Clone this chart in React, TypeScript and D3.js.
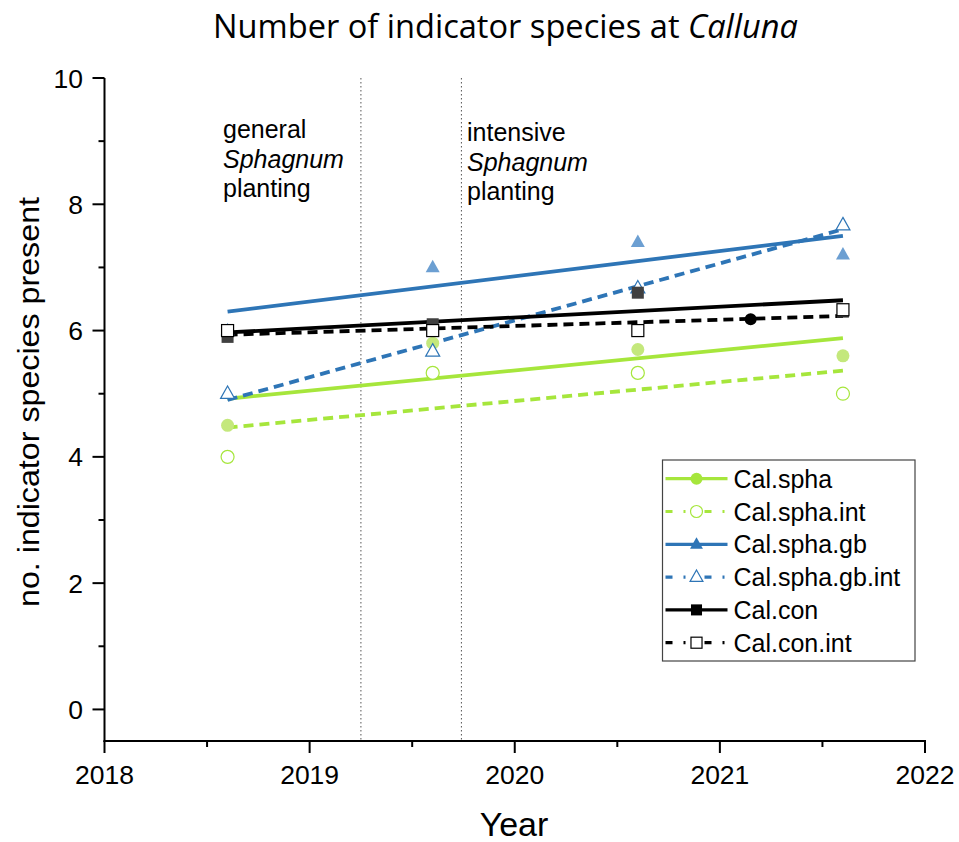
import React from "react";
import * as d3 from "d3";

const years = [2018.6, 2019.6, 2020.6, 2021.6];
const calSpha = [4.5, 5.8, 5.7, 5.6];
const calSphaInt = [4.0, 5.33, 5.33, 5.0];
const calSphaGb = [6.0, 7.0, 7.4, 7.2];
const calSphaGbInt = [5.0, 5.67, 6.67, 7.67];
const calCon = [5.9, 6.1, 6.6, 6.3];
const calConInt = [6.0, 6.0, 6.0, 6.33];
const extraPointX = [2021.15];
const extraPointY = [6.18];
const xTicks = [2018, 2019, 2020, 2021, 2022];
const yTicks = [0, 2, 4, 6, 8, 10];
const plantingLines = [2019.25, 2019.74];

const GREEN = "#a6e63c";
const GREEN_FILL = "#c4e87c";
const BLUE = "#2e75b6";
const BLUE_FILL = "#6c9fd2";
const BLACK = "#000";
const DARK = "#404040";

type Series = {
  name: string;
  values: number[];
  color: string;
  fill: string;
  dashed: boolean;
  shape: "circle" | "triangle" | "square";
};

const series: Series[] = [
  { name: "Cal.spha", values: calSpha, color: GREEN, fill: GREEN_FILL, dashed: false, shape: "circle" },
  { name: "Cal.spha.int", values: calSphaInt, color: GREEN, fill: "#fff", dashed: true, shape: "circle" },
  { name: "Cal.spha.gb", values: calSphaGb, color: BLUE, fill: BLUE_FILL, dashed: false, shape: "triangle" },
  { name: "Cal.spha.gb.int", values: calSphaGbInt, color: BLUE, fill: "#fff", dashed: true, shape: "triangle" },
  { name: "Cal.con", values: calCon, color: BLACK, fill: DARK, dashed: false, shape: "square" },
  { name: "Cal.con.int", values: calConInt, color: BLACK, fill: "#fff", dashed: true, shape: "square" },
];

function regress(xs: number[], ys: number[]) {
  const mx = d3.mean(xs)!;
  const my = d3.mean(ys)!;
  let num = 0, den = 0;
  xs.forEach((x, i) => {
    num += (x - mx) * (ys[i] - my);
    den += (x - mx) * (x - mx);
  });
  const b = num / den;
  return (x: number) => my + b * (x - mx);
}

const x = d3.scaleLinear().domain([2018, 2022]).range([104.5, 925]);
const y = d3.scaleLinear().domain([-0.5, 10]).range([741, 78]);

function Marker({ s, cx, cy, size = 1, legend = false }: { s: Series; cx: number; cy: number; size?: number; legend?: boolean }) {
  const filled = !s.dashed;
  const stroke = filled ? "none" : s.color;
  const fill = legend && filled ? s.color : s.fill;
  if (s.shape === "circle") {
    const r = 6.5 * size;
    return <circle cx={cx} cy={cy} r={r} fill={fill} stroke={stroke} strokeWidth={1.2} />;
  }
  if (s.shape === "triangle") {
    const h = 12.5 * size;
    const w = 14 * size;
    const p = `M${cx},${cy - h * 0.62} L${cx + w / 2},${cy + h * 0.38} L${cx - w / 2},${cy + h * 0.38} Z`;
    return <path d={p} fill={fill} stroke={stroke} strokeWidth={1.2} />;
  }
  const a = 12 * size;
  return <rect x={cx - a / 2} y={cy - a / 2} width={a} height={a} fill={fill} stroke={stroke} strokeWidth={1.2} />;
}

export default function App() {
  const font = "Arial, 'Liberation Sans', sans-serif";
  const x0 = years[0];
  const x1 = years[years.length - 1];
  const legendX = 662.5;
  const legendY = 460;
  const rowH = 32.8;
  const minorX = d3.range(2018.5, 2022, 1);
  const minorY = d3.range(1, 10, 2);
  const axisX = x(2018);
  const axisY = y(-0.5);

  return (
    <svg width={959} height={842} style={{ position: "absolute", left: 0, top: 0 }} fontFamily={font}>
      <rect width={959} height={842} fill="#fff" />
      <text x={213} y={38} fontSize={32} textLength={585} lengthAdjust="spacingAndGlyphs" fontFamily="'Open Sans', Lato, sans-serif">
        Number of indicator species at <tspan fontStyle="italic">Calluna</tspan>
      </text>

      {plantingLines.map((v, i) => (
        <line key={i} x1={x(v)} x2={x(v)} y1={y(10)} y2={axisY} stroke="#555" strokeWidth={1} strokeDasharray="1.5,2.5" />
      ))}

      <g fontSize={25}>
        <text x={223} y={138}>general</text>
        <text x={223} y={168}>
          <tspan fontStyle="italic">Sphagnum</tspan>
        </text>
        <text x={223} y={197}>planting</text>
        <text x={467} y={141}>intensive</text>
        <text x={467} y={171}>
          <tspan fontStyle="italic">Sphagnum</tspan>
        </text>
        <text x={467} y={200}>planting</text>
      </g>

      {series.map((s, i) => {
        const f = regress(years, s.values);
        return (
          <line
            key={"t" + i}
            x1={x(x0)}
            y1={y(f(x0))}
            x2={x(x1)}
            y2={y(f(x1))}
            stroke={s.color}
            strokeWidth={3.8}
            strokeDasharray={s.dashed ? "10,6" : undefined}
          />
        );
      })}

      {series.map((s, i) => (
        <g key={"m" + i}>
          {s.values.map((v, j) => (
            <Marker key={j} s={s} cx={x(years[j])} cy={y(v)} />
          ))}
        </g>
      ))}
      {extraPointX.map((v, i) => (
        <circle key={"e" + i} cx={x(v)} cy={y(extraPointY[i])} r={6} fill="#000" />
      ))}

      {/* axes */}
      <line x1={axisX} x2={axisX} y1={y(10)} y2={axisY + 1} stroke="#000" strokeWidth={2} />
      <line x1={axisX - 1} x2={x(2022) + 1} y1={axisY} y2={axisY} stroke="#000" strokeWidth={2} />
      {yTicks.map((t) => (
        <g key={"y" + t}>
          <line x1={axisX - 12} x2={axisX} y1={y(t)} y2={y(t)} stroke="#000" strokeWidth={2} />
          <text x={83} y={y(t)} dy="0.36em" textAnchor="end" fontSize={26.5}>{t}</text>
        </g>
      ))}
      {minorY.map((t) => (
        <line key={"ym" + t} x1={axisX - 6} x2={axisX} y1={y(t)} y2={y(t)} stroke="#000" strokeWidth={2} />
      ))}
      {xTicks.map((t) => (
        <g key={"x" + t}>
          <line x1={x(t)} x2={x(t)} y1={axisY} y2={axisY + 12} stroke="#000" strokeWidth={2} />
          <text x={x(t)} y={784} textAnchor="middle" fontSize={26.5}>{t}</text>
        </g>
      ))}
      {minorX.map((t) => (
        <line key={"xm" + t} x1={x(t)} x2={x(t)} y1={axisY} y2={axisY + 6} stroke="#000" strokeWidth={2} />
      ))}

      <text x={514} y={836} textAnchor="middle" fontSize={34}>Year</text>
      <text
        transform="translate(39,402) rotate(-90)"
        x={-205}
        fontSize={29.5}
        textLength={410}
        lengthAdjust="spacingAndGlyphs"
      >
        no. indicator species present
      </text>

      {/* legend */}
      <rect x={legendX} y={legendY} width={252.5} height={201} fill="#fff" stroke="#444" strokeWidth={1.2} />
      {series.map((s, i) => {
        const cy = legendY + 18.7 + i * rowH;
        return (
          <g key={"l" + i}>
            <line
              x1={legendX + 3}
              x2={legendX + 65}
              y1={cy}
              y2={cy}
              stroke={s.color}
              strokeWidth={3.2}
              strokeDasharray={s.dashed ? "7,11,2,19,7,11,2,100" : undefined}
            />
            <Marker s={s} cx={legendX + 34} cy={cy} size={0.92} legend />
            <text x={legendX + 71} y={cy} dy="0.36em" fontSize={25}>{s.name}</text>
          </g>
        );
      })}
    </svg>
  );
}
